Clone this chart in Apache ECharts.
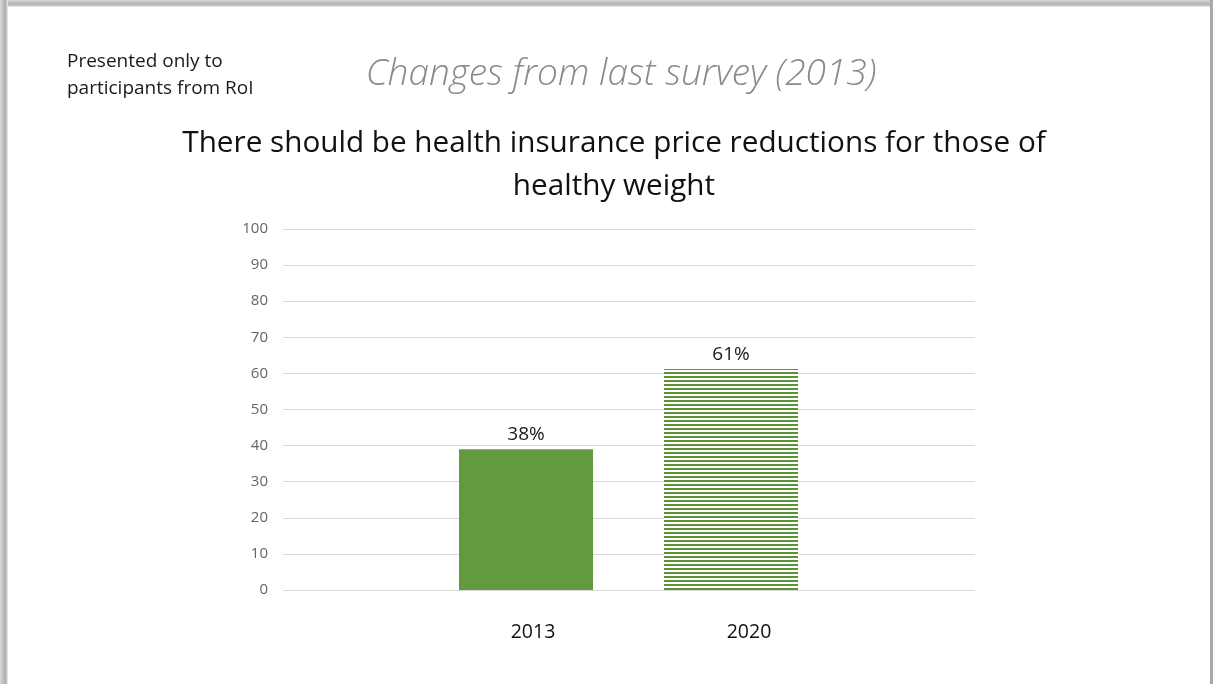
<!DOCTYPE html>
<html>
<head>
<meta charset="utf-8">
<script src="https://cdn.jsdelivr.net/npm/echarts@6/dist/echarts.min.js"></script>
<style>
html,body{margin:0;padding:0;background:#fff;}
#c{width:1213px;height:684px;}
</style>
</head>
<body>
<div id="c"></div>
<script>
const categories = ["2013", "2020"];
const values = [39, 61.2];
const valueLabels = ["38%", "61%"];
const yTicks = [0, 10, 20, 30, 40, 50, 60, 70, 80, 90, 100];

const noteText = "Presented only to\nparticipants from RoI";
const subTitle = "Changes from last survey (2013)";
const mainTitle = "There should be health insurance price reductions for those of\nhealthy weight";

// striped pattern for the 2020 bar
const pat = document.createElement('canvas');
pat.width = 8; pat.height = 4;
const pctx = pat.getContext('2d');
pctx.fillStyle = '#ffffff'; pctx.fillRect(0, 0, 8, 4);
pctx.fillStyle = '#5a9235'; pctx.fillRect(0, 0, 8, 2);

const solid = '#629b3f';

const chart = echarts.init(document.getElementById('c'), null, {renderer: 'canvas'});
const FONT = '"Open Sans", "Noto Sans", sans-serif';

const option = {
  animation: false,
  backgroundColor: '#ffffff',
  textStyle: {fontFamily: FONT},
  graphic: [
    {type: 'rect', left: 0, top: 0, shape: {width: 1213, height: 7}, silent: true,
     style: {fill: new echarts.graphic.LinearGradient(0, 0, 0, 1, [{offset: 0, color: '#d8d8d8'}, {offset: 0.6, color: '#b0b0b0'}, {offset: 1, color: '#e8e8e8'}])}},
    {type: 'rect', left: 0, top: 0, shape: {width: 8, height: 684}, silent: true,
     style: {fill: new echarts.graphic.LinearGradient(0, 0, 1, 0, [{offset: 0, color: '#d8d8d8'}, {offset: 0.7, color: '#acacac'}, {offset: 1, color: '#f0f0f0'}])}},
    {type: 'rect', left: 1210, top: 0, shape: {width: 3, height: 684}, silent: true,
     style: {fill: '#a8a8a8'}},
    {type: 'text', x: 67, y: 48, silent: true,
     style: {text: noteText, font: '19px ' + FONT, fill: '#1a1a1a', lineHeight: 27}},
    {type: 'text', x: 621, y: 56, silent: true,
     style: {text: subTitle, font: 'italic 300 37px ' + FONT, fill: '#8a8a8a', textAlign: 'center'}}
  ],
  title: {
    text: mainTitle,
    left: 609, textAlign: 'center', top: 117,
    textStyle: {fontFamily: FONT, fontSize: 29.7, fontWeight: 'normal', color: '#111', lineHeight: 43}
  },
  grid: [
    {left: 283, right: 238, top: 229, bottom: 94, containLabel: false},
    {left: 423.5, width: 410, top: 229, bottom: 94, containLabel: false}
  ],
  xAxis: [
    {type: 'category', gridIndex: 0, data: categories, show: false},
    {type: 'category', gridIndex: 1, data: categories,
     axisLine: {show: false}, axisTick: {show: false},
     axisLabel: {
       margin: 32,
       formatter: function (v, i) { return '{l' + i + '|' + v + '}'; },
       rich: {
         l0: {fontFamily: FONT, fontSize: 19.5, color: '#111', padding: [0, 0, 0, 14]},
         l1: {fontFamily: FONT, fontSize: 19.5, color: '#111', padding: [0, 0, 0, 36]}
       }
     }}
  ],
  yAxis: [
    {type: 'value', gridIndex: 0, min: yTicks[0], max: yTicks[yTicks.length - 1], interval: 10,
     axisLine: {show: false}, axisTick: {show: false},
     axisLabel: {margin: 15, fontFamily: FONT, fontSize: 15, color: '#666'},
     splitLine: {lineStyle: {color: '#d9d9d9', width: 1}}},
    {type: 'value', gridIndex: 1, min: yTicks[0], max: yTicks[yTicks.length - 1], show: false}
  ],
  series: [{
    type: 'bar',
    xAxisIndex: 1, yAxisIndex: 1,
    barWidth: 134,
    data: values.map(function (v, i) {
      return {
        value: v,
        itemStyle: {color: i === 0 ? solid : {image: pat, repeat: 'repeat'}}
      };
    }),
    label: {
      show: true, position: 'top', distance: 5,
      fontFamily: FONT, fontSize: 19, color: '#1a1a1a',
      formatter: function (p) { return valueLabels[p.dataIndex]; }
    }
  }]
};
chart.setOption(option);
</script>
</body>
</html>
